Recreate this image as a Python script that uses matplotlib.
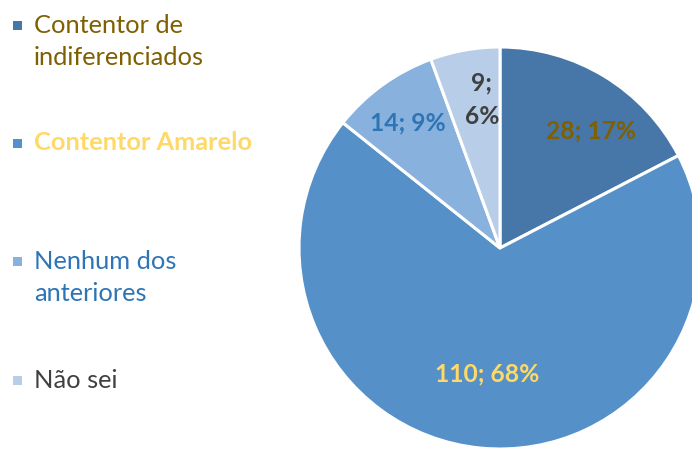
import matplotlib
matplotlib.use("Agg")
import matplotlib.pyplot as plt
from matplotlib.patches import Rectangle

categories = ["Contentor de\nindiferenciados", "Contentor Amarelo", "Nenhum dos\nanteriores", "Não sei"]
values = [28, 110, 14, 9]
percent_labels = ["17%", "68%", "9%", "6%"]
slice_colors = ["#4677A8", "#5591C8", "#88B1DD", "#B8CDE8"]
text_colors = ["#7F6000", "#FFD966", "#2E75B6", "#404040"]
legend_bold = [False, True, False, False]

W, H = 692, 449
fig = plt.figure(figsize=(W / 100, H / 100), dpi=100)
ax = fig.add_axes([0, 0, 1, 1])

cx, cy, r = 500, H - 248, 201
wedges, _ = ax.pie(values, colors=slice_colors, startangle=90, counterclock=False,
                   center=(cx, cy), radius=r, frame=True,
                   wedgeprops=dict(edgecolor="white", linewidth=2.2))
ax.set_xlim(0, W)
ax.set_ylim(0, H)
ax.set_aspect("equal")
ax.axis("off")

font = "Lato"
# data labels (pixel positions)
label_pos = [(591, 131), (487, 374), (408, 123), (482, 100)]
for i, (v, p) in enumerate(zip(values, percent_labels)):
    txt = f"{v}; {p}" if i != 3 else f"{v};\n{p}"
    x, y = label_pos[i]
    ax.text(x, H - y, txt, ha="center", va="center", color=text_colors[i],
            fontsize=17.7, fontweight="bold", family=font, linespacing=1.55)

# legend
leg_y = [41.5, 143, 277.5, 380]
for i, cat in enumerate(categories):
    y = leg_y[i]
    sq_y = y - 16.5 if "\n" in cat else y
    ax.add_patch(Rectangle((13, H - sq_y - 4.5), 8.5, 8.5, facecolor=slice_colors[i], edgecolor="none"))
    ax.text(34, H - y, cat, ha="left", va="center",
            color=text_colors[i], fontsize=18.3,
            fontweight="bold" if legend_bold[i] else "normal", family=font,
            linespacing=1.52)

fig.savefig("out.png", dpi=100)
